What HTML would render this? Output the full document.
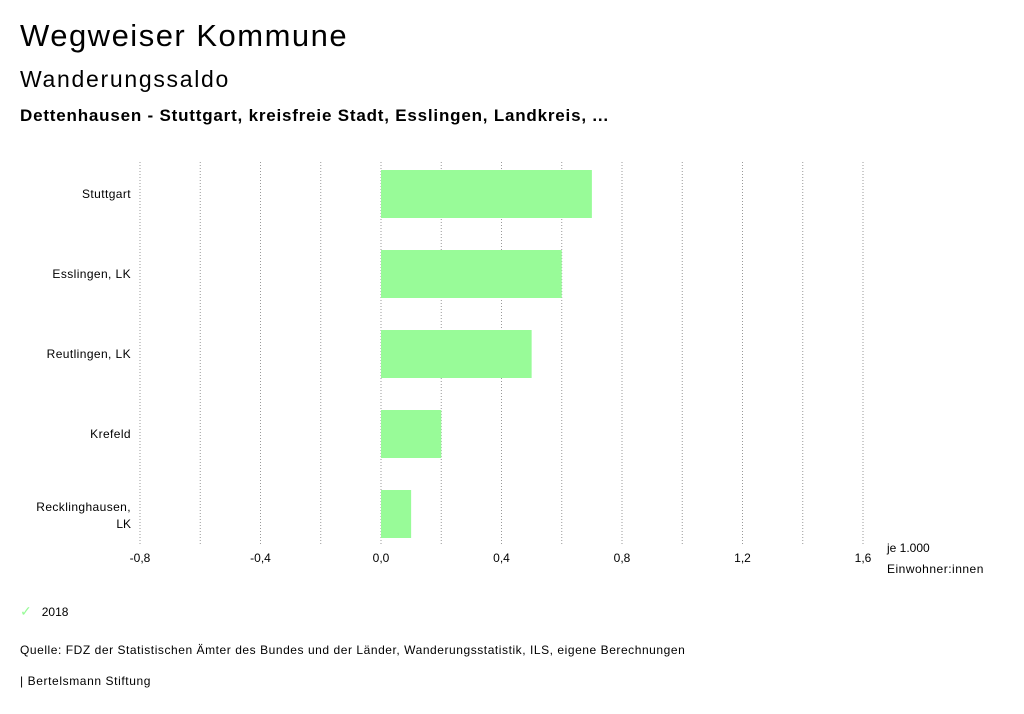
<!DOCTYPE html>
<html><head><meta charset="utf-8"><style>
body{margin:0;background:#fff;width:1024px;height:714px;overflow:hidden;font-family:"Liberation Sans",sans-serif;color:#000}
.t{position:absolute;white-space:nowrap}
</style></head><body>
<div class="t" style="left:20px;top:18px;font-size:31px;letter-spacing:1.5px">Wegweiser Kommune</div>
<div class="t" style="left:20px;top:66px;font-size:23px;letter-spacing:1.7px">Wanderungssaldo</div>
<div class="t" style="left:20px;top:106px;font-size:17px;font-weight:bold;letter-spacing:0.8px">Dettenhausen - Stuttgart, kreisfreie Stadt, Esslingen, Landkreis, ...</div>
<svg id="chart" width="1024" height="600" style="position:absolute;left:0;top:0" font-family="Liberation Sans, sans-serif"></svg>
<div class="t" style="left:20px;top:603px;font-size:12px"><span style="color:#98fb98;font-size:14px">✓</span>&nbsp;&nbsp;&nbsp;2018</div>
<div class="t" style="left:20px;top:643px;font-size:12px;letter-spacing:0.55px">Quelle: FDZ der Statistischen Ämter des Bundes und der Länder, Wanderungsstatistik, ILS, eigene Berechnungen</div>
<div class="t" style="left:20px;top:674px;font-size:12px;letter-spacing:0.6px">| Bertelsmann Stiftung</div>
<script>
const categories=["Stuttgart","Esslingen, LK","Reutlingen, LK","Krefeld","Recklinghausen, LK"];
const values2018=[0.7,0.6,0.5,0.2,0.1];
const tickValues=[-0.8,-0.4,0,0.4,0.8,1.2,1.6];
const tickLabels=["-0,8","-0,4","0,0","0,4","0,8","1,2","1,6"];
const gridValues=[-0.8,-0.6,-0.4,-0.2,0,0.2,0.4,0.6,0.8,1.0,1.2,1.4,1.6];
const svg=document.getElementById('chart');
const NS='http://www.w3.org/2000/svg';
const x=v=>381+v*(863-381)/1.6;
const top0=153,band=80;
const y=i=>top0+i*band;
function mk(t,a){const e=document.createElementNS(NS,t);for(const k in a)e.setAttribute(k,a[k]);svg.appendChild(e);return e;}
gridValues.forEach(v=>{
 const l=mk('line',{x1:x(v),x2:x(v),y1:162,y2:544,stroke:'#999','stroke-dasharray':'1,2','stroke-width':1});
 
 
});
tickValues.forEach((v,i)=>{
 const t=mk('text',{x:x(v),y:562,'font-size':12,'text-anchor':'middle'});t.textContent=tickLabels[i];
 
 
});
const u1=mk('text',{x:887,y:552,'font-size':12});u1.textContent='je 1.000';


const u2=mk('text',{x:887,y:573,'font-size':12,'letter-spacing':0.5});u2.textContent='Einwohner:innen';


categories.forEach((c,i)=>{
 const v=values2018[i];
 const r=mk('rect',{x:Math.min(x(0),x(v)),y:y(i)+17,width:Math.abs(x(v)-x(0)),height:48,fill:'#98fb98'});
 
 
 const cy=y(i)+41;
 if(c==='Recklinghausen, LK'){
  const a=mk('text',{x:131,y:cy-3,'font-size':12,'text-anchor':'end','letter-spacing':0.4});a.textContent='Recklinghausen,';
  
  
  const b=mk('text',{x:131,y:cy+14,'font-size':12,'text-anchor':'end'});b.textContent='LK';
  
  
 } else {
  const t=mk('text',{x:131,y:cy+4,'font-size':12,'text-anchor':'end','letter-spacing':0.4});t.textContent=c;
  
  
 }
});
</script>
</body></html>
